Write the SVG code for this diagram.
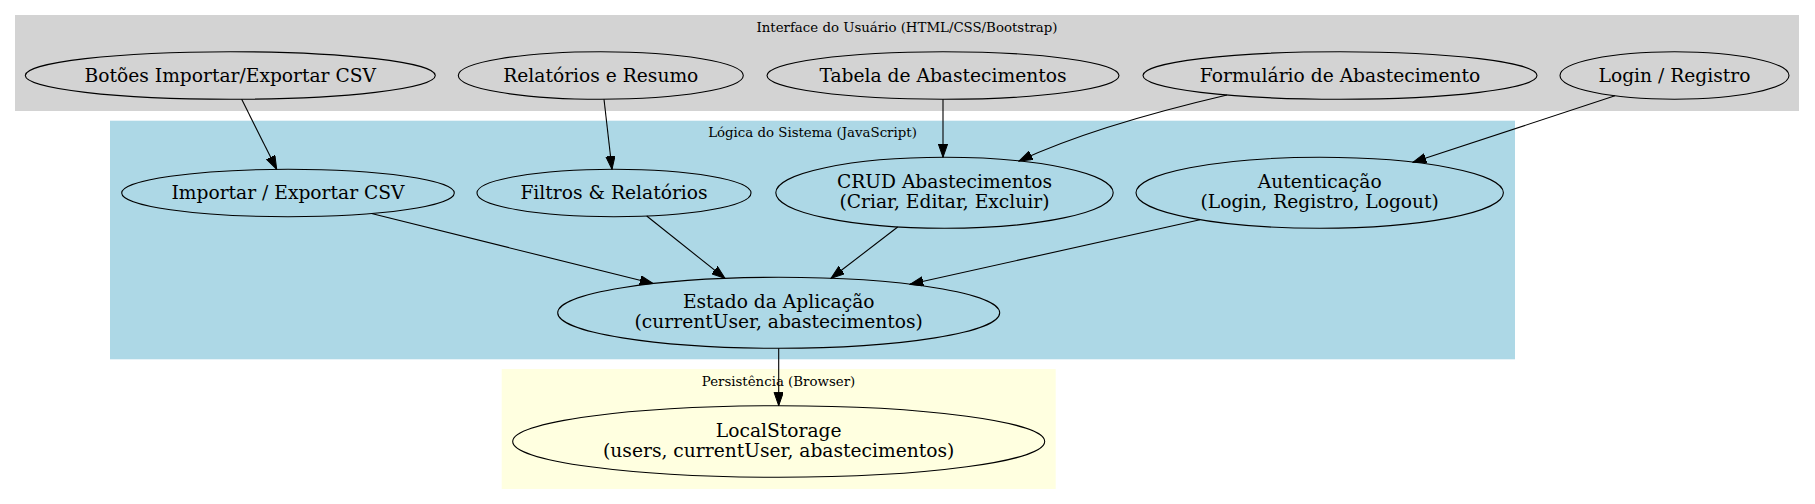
<svg xmlns="http://www.w3.org/2000/svg" width="1815" height="504" viewBox="0 0 1815 504">
<style>
.cl{font-family:"DejaVu Serif","Liberation Serif",serif;font-size:13.33px;fill:#000;text-anchor:middle}
.nt{font-family:"DejaVu Serif","Liberation Serif",serif;font-size:18.67px;fill:#000;text-anchor:middle}
.nd{fill:none;stroke:#000;stroke-width:1.1}
.ed{fill:none;stroke:#000;stroke-width:1.1;marker-end:url(#ah)}
</style>
<defs>
<marker id="ah" markerUnits="userSpaceOnUse" markerWidth="14" markerHeight="10" refX="13.33" refY="4.67" orient="auto" viewBox="0 0 14 10">
<path d="M0,0 L13.33,4.67 L0,9.33 Z" fill="#000" stroke="#000" stroke-width="1"/>
</marker>
</defs>
<rect width="1815" height="504" fill="#fff"/>
<g id="cluster-ui">
<rect x="15" y="15" width="1784" height="96" fill="#d3d3d3"/>
<text class="cl" x="907" y="31.7">Interface do Usuário (HTML/CSS/Bootstrap)</text>
</g>
<g id="cluster-logic">
<rect x="110" y="120.7" width="1405" height="238.6" fill="#add8e6"/>
<text class="cl" x="812.5" y="136.7">Lógica do Sistema (JavaScript)</text>
</g>
<g id="cluster-persist">
<rect x="501.7" y="369" width="554" height="120" fill="#ffffe0"/>
<text class="cl" x="778.5" y="385.7">Persistência (Browser)</text>
</g>
<g id="connectors">
<path class="ed" d="M241.7,99.3 L276.7,169.3"/>
<path class="ed" d="M604,99.3 L612,169.3"/>
<path class="ed" d="M943,99.3 L943,157.3"/>
<path class="ed" d="M1227,95 C1180,106 1090,128 1019,161"/>
<path class="ed" d="M1615,95.8 L1413,162.2"/>
<path class="ed" d="M371.5,213.5 L653,283.5"/>
<path class="ed" d="M646.7,216 L725,278.4"/>
<path class="ed" d="M897.7,227 L831,278.3"/>
<path class="ed" d="M1200,219.7 L910,284.3"/>
<path class="ed" d="M778.7,348.3 L778.7,405.7"/>
</g>
<g id="botoes">
<ellipse class="nd" cx="230.3" cy="75.5" rx="205" ry="23.8"/>
<text class="nt" x="230.3" y="81.5">Botões Importar/Exportar CSV</text>
</g>
<g id="relatorios">
<ellipse class="nd" cx="600.8" cy="75.5" rx="142.5" ry="23.8"/>
<text class="nt" x="600.8" y="81.5">Relatórios e Resumo</text>
</g>
<g id="tabela">
<ellipse class="nd" cx="943" cy="75.5" rx="176" ry="23.8"/>
<text class="nt" x="943" y="81.5">Tabela de Abastecimentos</text>
</g>
<g id="formulario">
<ellipse class="nd" cx="1340" cy="75.5" rx="197" ry="23.8"/>
<text class="nt" x="1340" y="81.5">Formulário de Abastecimento</text>
</g>
<g id="login">
<ellipse class="nd" cx="1674.5" cy="75.5" rx="114.5" ry="23.8"/>
<text class="nt" x="1674.5" y="81.5">Login / Registro</text>
</g>
<g id="importar">
<ellipse class="nd" cx="288" cy="193" rx="166.3" ry="23.7"/>
<text class="nt" x="288" y="199">Importar / Exportar CSV</text>
</g>
<g id="filtros">
<ellipse class="nd" cx="614" cy="193" rx="137" ry="23.7"/>
<text class="nt" x="614" y="199">Filtros &amp; Relatórios</text>
</g>
<g id="crud">
<ellipse class="nd" cx="944.5" cy="192.8" rx="168.7" ry="35.5"/>
<text class="nt" x="944.5" y="187.8">CRUD Abastecimentos</text>
<text class="nt" x="944.5" y="207.8">(Criar, Editar, Excluir)</text>
</g>
<g id="autenticacao">
<ellipse class="nd" cx="1319.7" cy="192.8" rx="183.7" ry="35.5"/>
<text class="nt" x="1319.7" y="187.8">Autenticação</text>
<text class="nt" x="1319.7" y="207.8">(Login, Registro, Logout)</text>
</g>
<g id="estado">
<ellipse class="nd" cx="778.7" cy="312.8" rx="221" ry="35.5"/>
<text class="nt" x="778.7" y="307.8">Estado da Aplicação</text>
<text class="nt" x="778.7" y="327.8">(currentUser, abastecimentos)</text>
</g>
<g id="localstorage">
<ellipse class="nd" cx="778.7" cy="441.5" rx="266" ry="35.8"/>
<text class="nt" x="778.7" y="436.5">LocalStorage</text>
<text class="nt" x="778.7" y="456.5">(users, currentUser, abastecimentos)</text>
</g>
</svg>
